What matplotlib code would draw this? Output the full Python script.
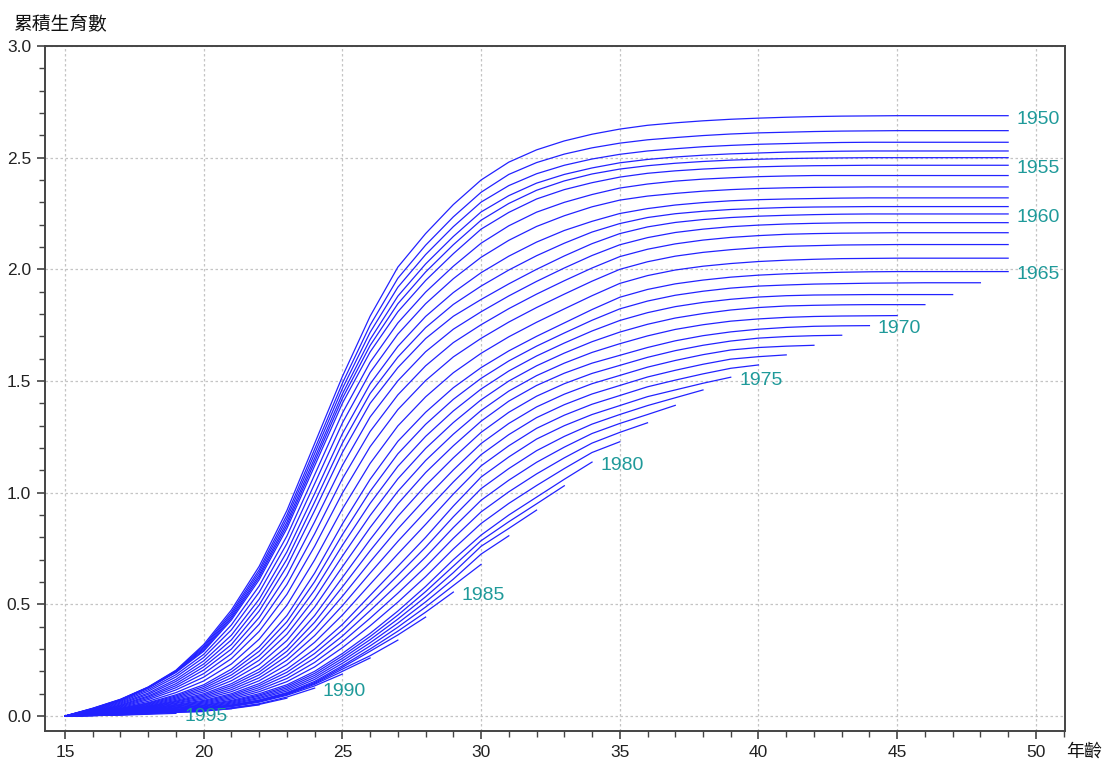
import matplotlib
matplotlib.use('Agg')
import matplotlib.pyplot as plt
from matplotlib.ticker import MultipleLocator, FormatStrFormatter

plt.rcParams['font.family'] = ['Liberation Sans', 'Noto Sans CJK TC']

# cumulative births per woman by birth cohort, ages 15, 16, ... up to the last observed age
f1950 = [0.00, 0.035, 0.075, 0.13, 0.205, 0.32, 0.475, 0.67, 0.92, 1.22, 1.52, 1.79, 2.01, 2.16, 2.29,
         2.40, 2.48, 2.535, 2.575, 2.605, 2.628, 2.645, 2.656, 2.665, 2.672, 2.677, 2.681, 2.684, 2.686, 2.687,
         2.688, 2.688, 2.688, 2.688, 2.688]
f1951 = [0.00, 0.034, 0.074, 0.129, 0.203, 0.313, 0.464, 0.655, 0.90, 1.195, 1.49, 1.75, 1.96, 2.108, 2.235,
         2.345, 2.425, 2.478, 2.516, 2.544, 2.565, 2.58, 2.59, 2.599, 2.606, 2.611, 2.614, 2.617, 2.619, 2.62,
         2.621, 2.621, 2.621, 2.621, 2.621]
f1952 = [0.00, 0.033, 0.073, 0.128, 0.200, 0.307, 0.455, 0.643, 0.884, 1.175, 1.466, 1.718, 1.92, 2.066, 2.191,
         2.301, 2.375, 2.428, 2.466, 2.494, 2.515, 2.53, 2.54, 2.549, 2.555, 2.56, 2.563, 2.566, 2.568, 2.569,
         2.569, 2.569, 2.569, 2.569, 2.569]
f1953 = [0.00, 0.032, 0.072, 0.127, 0.199, 0.301, 0.446, 0.631, 0.868, 1.155, 1.442, 1.686, 1.88, 2.024, 2.147,
         2.257, 2.33, 2.386, 2.425, 2.454, 2.477, 2.492, 2.503, 2.511, 2.517, 2.521, 2.525, 2.527, 2.529, 2.53,
         2.53, 2.53, 2.53, 2.53, 2.53]
f1954 = [0.00, 0.031, 0.071, 0.126, 0.197, 0.295, 0.438, 0.621, 0.854, 1.138, 1.422, 1.659, 1.846, 1.988, 2.11,
         2.22, 2.295, 2.354, 2.396, 2.427, 2.449, 2.464, 2.475, 2.483, 2.489, 2.493, 2.496, 2.498, 2.499, 2.50,
         2.50, 2.50, 2.50, 2.50, 2.50]
f1955 = [0.00, 0.03, 0.07, 0.125, 0.195, 0.29, 0.43, 0.61, 0.84, 1.12, 1.40, 1.63, 1.81, 1.95, 2.07,
         2.18, 2.255, 2.315, 2.357, 2.388, 2.413, 2.43, 2.441, 2.449, 2.455, 2.459, 2.462, 2.464, 2.465, 2.466,
         2.466, 2.466, 2.466, 2.466, 2.466]
f1956 = [0.00, 0.028, 0.066, 0.118, 0.185, 0.276, 0.408, 0.582, 0.806, 1.08, 1.356, 1.584, 1.76, 1.898, 2.014,
         2.117, 2.195, 2.256, 2.30, 2.335, 2.364, 2.382, 2.395, 2.404, 2.41, 2.415, 2.418, 2.42, 2.42, 2.42,
         2.42, 2.42, 2.42, 2.42, 2.42]
f1957 = [0.00, 0.026, 0.062, 0.111, 0.175, 0.262, 0.386, 0.554, 0.772, 1.04, 1.312, 1.538, 1.71, 1.846, 1.958,
         2.054, 2.13, 2.192, 2.24, 2.28, 2.31, 2.328, 2.34, 2.35, 2.357, 2.362, 2.365, 2.367, 2.368, 2.369,
         2.369, 2.369, 2.369, 2.369, 2.369]
f1958 = [0.00, 0.024, 0.058, 0.103, 0.164, 0.247, 0.362, 0.523, 0.735, 0.996, 1.264, 1.487, 1.655, 1.789, 1.896,
         1.985, 2.059, 2.122, 2.174, 2.215, 2.25, 2.272, 2.288, 2.299, 2.307, 2.312, 2.315, 2.317, 2.319, 2.32,
         2.32, 2.32, 2.32, 2.32, 2.32]
f1959 = [0.00, 0.022, 0.054, 0.097, 0.155, 0.233, 0.341, 0.497, 0.702, 0.958, 1.222, 1.444, 1.607, 1.739, 1.843,
         1.925, 1.997, 2.061, 2.117, 2.167, 2.205, 2.232, 2.249, 2.26, 2.268, 2.273, 2.277, 2.279, 2.28, 2.281,
         2.281, 2.281, 2.281, 2.281, 2.281]
f1960 = [0.00, 0.02, 0.05, 0.09, 0.145, 0.22, 0.32, 0.47, 0.67, 0.92, 1.18, 1.40, 1.56, 1.69, 1.79,
         1.865, 1.935, 2.00, 2.06, 2.115, 2.16, 2.19, 2.21, 2.223, 2.232, 2.238, 2.242, 2.245, 2.247, 2.248,
         2.248, 2.248, 2.248, 2.248, 2.248]
f1961 = [0.00, 0.019, 0.047, 0.085, 0.136, 0.206, 0.30, 0.441, 0.63, 0.87, 1.122, 1.339, 1.501, 1.631, 1.732,
         1.81, 1.881, 1.946, 2.006, 2.062, 2.11, 2.142, 2.165, 2.18, 2.191, 2.198, 2.203, 2.206, 2.208, 2.209,
         2.209, 2.209, 2.209, 2.209, 2.209]
f1962 = [0.00, 0.018, 0.044, 0.079, 0.127, 0.19, 0.279, 0.411, 0.589, 0.816, 1.062, 1.274, 1.438, 1.568, 1.672,
         1.752, 1.824, 1.889, 1.949, 2.006, 2.057, 2.09, 2.114, 2.131, 2.143, 2.151, 2.157, 2.16, 2.162, 2.163,
         2.164, 2.164, 2.164, 2.164, 2.164]
f1963 = [0.00, 0.017, 0.041, 0.073, 0.117, 0.174, 0.257, 0.379, 0.545, 0.76, 0.998, 1.206, 1.372, 1.502, 1.608,
         1.691, 1.764, 1.829, 1.889, 1.947, 2.00, 2.034, 2.059, 2.076, 2.088, 2.097, 2.103, 2.106, 2.109, 2.11,
         2.111, 2.111, 2.111, 2.111, 2.111]
f1964 = [0.00, 0.016, 0.038, 0.066, 0.105, 0.157, 0.233, 0.344, 0.496, 0.699, 0.927, 1.131, 1.299, 1.429, 1.537,
         1.624, 1.698, 1.763, 1.823, 1.882, 1.937, 1.972, 1.997, 2.014, 2.026, 2.035, 2.041, 2.045, 2.048, 2.049,
         2.05, 2.05, 2.05, 2.05, 2.05]
f1965 = [0.00, 0.015, 0.035, 0.06, 0.095, 0.14, 0.21, 0.31, 0.45, 0.64, 0.86, 1.06, 1.23, 1.36, 1.47,
         1.56, 1.635, 1.70, 1.76, 1.82, 1.875, 1.91, 1.935, 1.952, 1.965, 1.974, 1.98, 1.984, 1.987, 1.989,
         1.99, 1.99, 1.99, 1.99, 1.99]
f1966 = [0.00, 0.014, 0.033, 0.057, 0.09, 0.132, 0.197, 0.29, 0.422, 0.602, 0.812, 1.006, 1.174, 1.306, 1.418,
         1.512, 1.59, 1.656, 1.715, 1.772, 1.823, 1.858, 1.884, 1.902, 1.916, 1.925, 1.93, 1.934, 1.936, 1.938,
         1.939, 1.94, 1.94, 1.94]
f1967 = [0.00, 0.013, 0.031, 0.054, 0.085, 0.124, 0.184, 0.27, 0.394, 0.564, 0.764, 0.952, 1.118, 1.252, 1.366,
         1.464, 1.545, 1.612, 1.67, 1.724, 1.771, 1.806, 1.833, 1.852, 1.866, 1.876, 1.882, 1.885, 1.886, 1.887,
         1.887, 1.887, 1.887]
f1968 = [0.00, 0.012, 0.029, 0.051, 0.08, 0.116, 0.171, 0.25, 0.366, 0.526, 0.716, 0.898, 1.062, 1.198, 1.314,
         1.416, 1.50, 1.568, 1.625, 1.676, 1.719, 1.754, 1.782, 1.802, 1.818, 1.829, 1.836, 1.839, 1.841, 1.842,
         1.842, 1.842]
f1969 = [0.00, 0.011, 0.027, 0.048, 0.075, 0.108, 0.158, 0.23, 0.338, 0.488, 0.668, 0.844, 1.006, 1.144, 1.262,
         1.368, 1.455, 1.524, 1.58, 1.628, 1.667, 1.702, 1.731, 1.752, 1.768, 1.778, 1.785, 1.789, 1.791, 1.792,
         1.793]
f1970 = [0.00, 0.01, 0.025, 0.045, 0.07, 0.10, 0.145, 0.21, 0.31, 0.45, 0.62, 0.79, 0.95, 1.09, 1.21,
         1.32, 1.41, 1.48, 1.535, 1.58, 1.615, 1.65, 1.68, 1.703, 1.72, 1.732, 1.74, 1.745, 1.747, 1.748]
f1971 = [0.00, 0.01, 0.024, 0.043, 0.066, 0.094, 0.136, 0.197, 0.29, 0.42, 0.578, 0.74, 0.894, 1.032, 1.156,
         1.27, 1.36, 1.432, 1.488, 1.534, 1.57, 1.606, 1.636, 1.66, 1.679, 1.692, 1.699, 1.703, 1.705]
f1972 = [0.00, 0.009, 0.023, 0.041, 0.063, 0.088, 0.127, 0.184, 0.27, 0.39, 0.536, 0.69, 0.838, 0.974, 1.102,
         1.22, 1.31, 1.384, 1.441, 1.488, 1.525, 1.562, 1.592, 1.618, 1.639, 1.65, 1.656, 1.66]
f1973 = [0.00, 0.009, 0.022, 0.039, 0.059, 0.082, 0.118, 0.171, 0.25, 0.36, 0.494, 0.64, 0.782, 0.916, 1.048,
         1.17, 1.26, 1.336, 1.394, 1.442, 1.48, 1.518, 1.548, 1.575, 1.598, 1.609, 1.617]
f1974 = [0.00, 0.008, 0.021, 0.037, 0.056, 0.076, 0.109, 0.158, 0.23, 0.33, 0.452, 0.59, 0.726, 0.858, 0.994,
         1.12, 1.21, 1.288, 1.347, 1.396, 1.435, 1.474, 1.504, 1.532, 1.557, 1.572]
f1975 = [0.00, 0.008, 0.02, 0.035, 0.052, 0.07, 0.10, 0.145, 0.21, 0.30, 0.41, 0.54, 0.67, 0.80, 0.94,
         1.07, 1.16, 1.24, 1.30, 1.35, 1.39, 1.43, 1.46, 1.49, 1.517]
f1976 = [0.00, 0.007, 0.019, 0.033, 0.049, 0.066, 0.094, 0.136, 0.196, 0.28, 0.384, 0.506, 0.63, 0.756, 0.892,
         1.018, 1.108, 1.188, 1.252, 1.307, 1.35, 1.39, 1.425, 1.46]
f1977 = [0.00, 0.007, 0.018, 0.031, 0.046, 0.062, 0.088, 0.127, 0.182, 0.26, 0.358, 0.472, 0.59, 0.712, 0.844,
         0.966, 1.056, 1.136, 1.204, 1.265, 1.31, 1.35, 1.391]
f1978 = [0.00, 0.006, 0.016, 0.03, 0.044, 0.058, 0.082, 0.118, 0.168, 0.24, 0.332, 0.438, 0.55, 0.668, 0.796,
         0.914, 1.004, 1.084, 1.156, 1.222, 1.27, 1.313]
f1979 = [0.00, 0.006, 0.015, 0.028, 0.041, 0.054, 0.076, 0.109, 0.154, 0.22, 0.306, 0.404, 0.51, 0.624, 0.748,
         0.862, 0.952, 1.032, 1.108, 1.18, 1.228]
f1980 = [0.00, 0.005, 0.014, 0.026, 0.038, 0.05, 0.07, 0.10, 0.14, 0.20, 0.28, 0.37, 0.47, 0.58, 0.70,
         0.81, 0.90, 0.98, 1.06, 1.137]
f1981 = [0.00, 0.005, 0.013, 0.024, 0.036, 0.047, 0.066, 0.094, 0.133, 0.191, 0.269, 0.356, 0.452, 0.557, 0.671,
         0.785, 0.87, 0.95, 1.031]
f1982 = [0.00, 0.005, 0.012, 0.023, 0.034, 0.044, 0.062, 0.089, 0.126, 0.182, 0.258, 0.342, 0.434, 0.534, 0.642,
         0.76, 0.84, 0.922]
f1983 = [0.00, 0.004, 0.012, 0.021, 0.031, 0.041, 0.058, 0.083, 0.119, 0.173, 0.247, 0.328, 0.416, 0.511, 0.613,
         0.725, 0.807]
f1984 = [0.00, 0.004, 0.011, 0.02, 0.029, 0.038, 0.054, 0.078, 0.112, 0.164, 0.236, 0.314, 0.398, 0.488, 0.584,
         0.679]
f1985 = [0.00, 0.004, 0.01, 0.018, 0.027, 0.036, 0.05, 0.072, 0.105, 0.155, 0.225, 0.30, 0.38, 0.465, 0.555]
f1986 = [0.00, 0.004, 0.01, 0.017, 0.026, 0.034, 0.048, 0.07, 0.102, 0.15, 0.218, 0.29, 0.363, 0.443]
f1987 = [0.00, 0.004, 0.009, 0.016, 0.025, 0.033, 0.046, 0.067, 0.099, 0.146, 0.21, 0.27, 0.34]
f1988 = [0.00, 0.003, 0.009, 0.016, 0.024, 0.031, 0.044, 0.065, 0.096, 0.142, 0.20, 0.26]
f1989 = [0.00, 0.003, 0.008, 0.015, 0.022, 0.03, 0.042, 0.062, 0.093, 0.135, 0.188]
f1990 = [0.00, 0.003, 0.008, 0.014, 0.021, 0.026, 0.037, 0.055, 0.085, 0.125]
f1991 = [0.00, 0.003, 0.007, 0.013, 0.02, 0.025, 0.035, 0.052, 0.08]
f1992 = [0.00, 0.002, 0.007, 0.012, 0.019, 0.023, 0.033, 0.05]
f1993 = [0.00, 0.002, 0.006, 0.011, 0.018, 0.022, 0.033]
f1994 = [0.00, 0.002, 0.005, 0.01, 0.016, 0.02]
f1995 = [0.00, 0.002, 0.004, 0.008, 0.012]

cohorts = list(range(1950, 1996))
curves = [f1950, f1951, f1952, f1953, f1954, f1955, f1956, f1957, f1958, f1959,
          f1960, f1961, f1962, f1963, f1964, f1965, f1966, f1967, f1968, f1969,
          f1970, f1971, f1972, f1973, f1974, f1975, f1976, f1977, f1978, f1979,
          f1980, f1981, f1982, f1983, f1984, f1985, f1986, f1987, f1988, f1989,
          f1990, f1991, f1992, f1993, f1994, f1995]
labelled = [1950, 1955, 1960, 1965, 1970, 1975, 1980, 1985, 1990, 1995]
first_age = 15

fig = plt.figure(figsize=(11.04, 7.62), dpi=100)
ax = fig.add_axes([45 / 1104, 1 - 731 / 762, 1020 / 1104, 685 / 762])

for year, vals in zip(cohorts, curves):
    ages = list(range(first_age, first_age + len(vals)))
    ax.plot(ages, vals, color='#2222ff', lw=0.9, zorder=3)
    if year in labelled:
        ax.text(ages[-1] + 0.3, vals[-1] - 0.015, str(year), color='#1f9a9a',
                fontsize=14, ha='left', va='center', zorder=4)

ax.set_xlim(14.28, 51.05)
ax.set_ylim(-0.067, 3.0)
ax.xaxis.set_major_locator(MultipleLocator(5))
ax.xaxis.set_minor_locator(MultipleLocator(1))
ax.yaxis.set_major_locator(MultipleLocator(0.5))
ax.yaxis.set_minor_locator(MultipleLocator(0.1))
ax.yaxis.set_major_formatter(FormatStrFormatter('%.1f'))

ax.grid(True, which='major', linestyle=(0, (2, 2)), color='#c4c4c4', lw=0.9, zorder=1)
ax.xaxis.get_gridlines()[0].set_visible(False)

ax.tick_params(which='major', direction='out', length=6, width=1.2, color='#444444',
               labelsize=12.5, labelcolor='#222222', pad=4)
ax.tick_params(which='minor', direction='out', length=4, width=1.0, color='#444444')
for s in ax.spines.values():
    s.set_color('#444444')
    s.set_linewidth(1.4)

fig.text(13 / 1104, 1 - 24 / 762, '累積生育數', family=['Noto Sans CJK TC'],
         fontsize=13.5, ha='left', va='center', color='#111111')
fig.text(1066 / 1104, 1 - 752 / 762, '年齡', family=['Noto Sans CJK TC'],
         fontsize=13, ha='left', va='center', color='#111111')

fig.savefig('out.png', dpi=100)
